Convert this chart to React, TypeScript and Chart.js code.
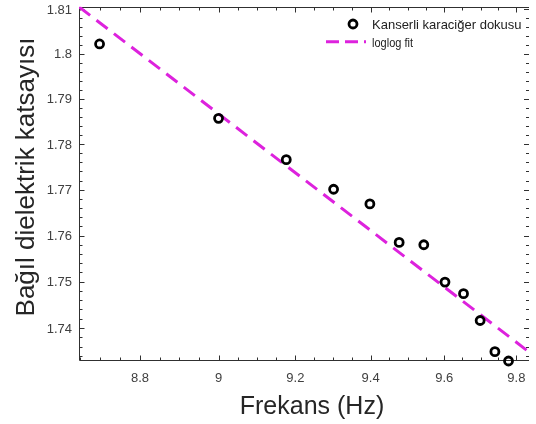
import React, { useEffect, useRef } from 'react';
import { Chart, registerables } from 'chart.js';

Chart.register(...registerables);

// log10 of frequency (Hz)
const freqLog = [8.699, 9.0, 9.176, 9.301, 9.398, 9.477, 9.544, 9.602, 9.653, 9.699, 9.74, 9.778];
const permittivity = [1.8022, 1.7857, 1.7766, 1.7701, 1.7669, 1.7585, 1.758, 1.7499, 1.7474, 1.7416, 1.7349, 1.7329];
const fitX = [8.648, 9.836];
const fitY = [1.8105, 1.7348];
const xTicks = [8.8, 9, 9.2, 9.4, 9.6, 9.8];
const yTicks = [1.74, 1.75, 1.76, 1.77, 1.78, 1.79, 1.8, 1.81];
const xRange = [8.648, 9.836];
const yRange = [1.7329, 1.8105];
const xMinorStep = 0.05;
const yMinorStep = 0.002;
const seriesLabel = 'Kanserli karaciğer dokusu';
const fitLabel = 'loglog fit';
const xTitle = 'Frekans (Hz)';
const yTitle = 'Bağıl dielektrik katsayısı';

const FONT = '"Liberation Sans", Arial, sans-serif';
const MAGENTA = '#dd22dd';

function minorTicks(min: number, max: number, step: number, majors: number[]) {
  const out: number[] = [];
  const start = Math.ceil(min / step - 1e-9);
  const end = Math.floor(max / step + 1e-9);
  for (let i = start; i <= end; i++) {
    const v = i * step;
    if (!majors.some((m) => Math.abs(m - v) < step / 10)) out.push(v);
  }
  return out;
}

const decor = {
  id: 'decor',
  beforeDatasetsDraw(chart: any) {
    const { ctx, chartArea: a, scales } = chart;
    const x = scales.x;
    const y = scales.y;
    const L = Math.round(a.left) + 0.5;
    const R = Math.round(a.right);
    const T = Math.round(a.top) + 0.5;
    const B = Math.round(a.bottom) - 0.5;
    ctx.save();
    ctx.fillStyle = '#ffffff';
    ctx.fillRect(0, 0, chart.width, chart.height);
    ctx.strokeStyle = '#303030';
    ctx.lineWidth = 1;
    // box: left, top, bottom (right edge falls just outside the picture)
    ctx.beginPath();
    ctx.moveTo(R, T);
    ctx.lineTo(L, T);
    ctx.lineTo(L, B);
    ctx.lineTo(R, B);
    ctx.stroke();

    const drawX = (v: number, len: number) => {
      const px = Math.round(x.getPixelForValue(v)) + 0.5;
      if (px < L || px > R) return;
      ctx.beginPath();
      ctx.moveTo(px, B);
      ctx.lineTo(px, B - len);
      ctx.moveTo(px, T);
      ctx.lineTo(px, T + len);
      ctx.stroke();
    };
    const drawY = (v: number, len: number) => {
      const py = Math.round(y.getPixelForValue(v)) + 0.5;
      if (py < T || py > B) return;
      ctx.beginPath();
      ctx.moveTo(L, py);
      ctx.lineTo(L + len, py);
      ctx.moveTo(R, py);
      ctx.lineTo(R - len, py);
      ctx.stroke();
    };
    xTicks.forEach((v) => drawX(v, 5));
    minorTicks(xRange[0], xRange[1], xMinorStep, xTicks).forEach((v) => drawX(v, 3));
    yTicks.forEach((v) => drawY(v, 5));
    minorTicks(yRange[0], yRange[1], yMinorStep, yTicks).forEach((v) => drawY(v, 3));

    // tick labels
    ctx.fillStyle = '#404040';
    ctx.font = `13px ${FONT}`;
    ctx.textBaseline = 'alphabetic';
    ctx.textAlign = 'center';
    xTicks.forEach((v) => {
      ctx.fillText(String(v), x.getPixelForValue(v), 382);
    });
    ctx.textAlign = 'right';
    yTicks.forEach((v) => {
      ctx.fillText(String(v), 72, y.getPixelForValue(v) + 4.6);
    });

    // titles
    ctx.fillStyle = '#262626';
    ctx.font = `25px ${FONT}`;
    ctx.textAlign = 'center';
    ctx.fillText(xTitle, 312, 414);
    ctx.save();
    ctx.translate(33.5, 177);
    ctx.rotate(-Math.PI / 2);
    ctx.font = `26px ${FONT}`;
    ctx.fillText(yTitle, 0, 0);
    ctx.restore();
    ctx.restore();
  },
  afterDatasetsDraw(chart: any) {
    const { ctx } = chart;
    ctx.save();
    // legend
    ctx.strokeStyle = '#000000';
    ctx.lineWidth = 2.8;
    ctx.beginPath();
    ctx.arc(353, 24, 4, 0, Math.PI * 2);
    ctx.stroke();
    ctx.strokeStyle = MAGENTA;
    ctx.lineWidth = 3;
    ctx.setLineDash([13, 6]);
    ctx.beginPath();
    ctx.moveTo(326, 41.7);
    ctx.lineTo(366, 41.7);
    ctx.stroke();
    ctx.setLineDash([]);
    ctx.fillStyle = '#222222';
    ctx.textAlign = 'left';
    ctx.textBaseline = 'alphabetic';
    ctx.font = `13px ${FONT}`;
    ctx.fillText(seriesLabel, 372, 28.5, 150);
    ctx.font = `12px ${FONT}`;
    ctx.fillText(fitLabel, 372, 46.7, 41);
    ctx.restore();
  },
};

export default function App() {
  const ref = useRef<HTMLCanvasElement | null>(null);
  useEffect(() => {
    document.body.style.margin = '0';
    const canvas = ref.current;
    if (!canvas) return;
    const chart = new Chart(canvas, {
      type: 'scatter',
      data: {
        datasets: [
          {
            label: fitLabel,
            data: fitX.map((v, i) => ({ x: v, y: fitY[i] })),
            showLine: true,
            borderColor: MAGENTA,
            borderWidth: 3,
            borderDash: [14, 8],
            pointRadius: 0,
            fill: false,
            order: 2,
          },
          {
            label: seriesLabel,
            data: freqLog.map((v, i) => ({ x: v, y: permittivity[i] })),
            showLine: false,
            pointStyle: 'circle',
            pointRadius: 4,
            pointBorderWidth: 2.8,
            borderColor: '#000000',
            backgroundColor: 'rgba(0,0,0,0)',
            pointBackgroundColor: 'rgba(0,0,0,0)',
            clip: false,
            order: 1,
          },
        ],
      },
      options: {
        animation: false,
        responsive: false,
        devicePixelRatio: 1,
        layout: { padding: { left: 79, top: 6, right: 0, bottom: 63 } },
        plugins: { legend: { display: false }, tooltip: { enabled: false } },
        events: [],
        scales: {
          x: { type: 'logarithmic', min: xRange[0], max: xRange[1], display: false, bounds: 'data' },
          y: { type: 'logarithmic', min: yRange[0], max: yRange[1], display: false, bounds: 'data' },
        },
      },
      plugins: [decor],
    });
    return () => chart.destroy();
  }, []);
  return (
    <div style={{ position: 'absolute', left: 0, top: 0, width: 536, height: 424 }}>
      <canvas ref={ref} width={536} height={424} style={{ width: 536, height: 424, display: 'block' }} />
    </div>
  );
}
